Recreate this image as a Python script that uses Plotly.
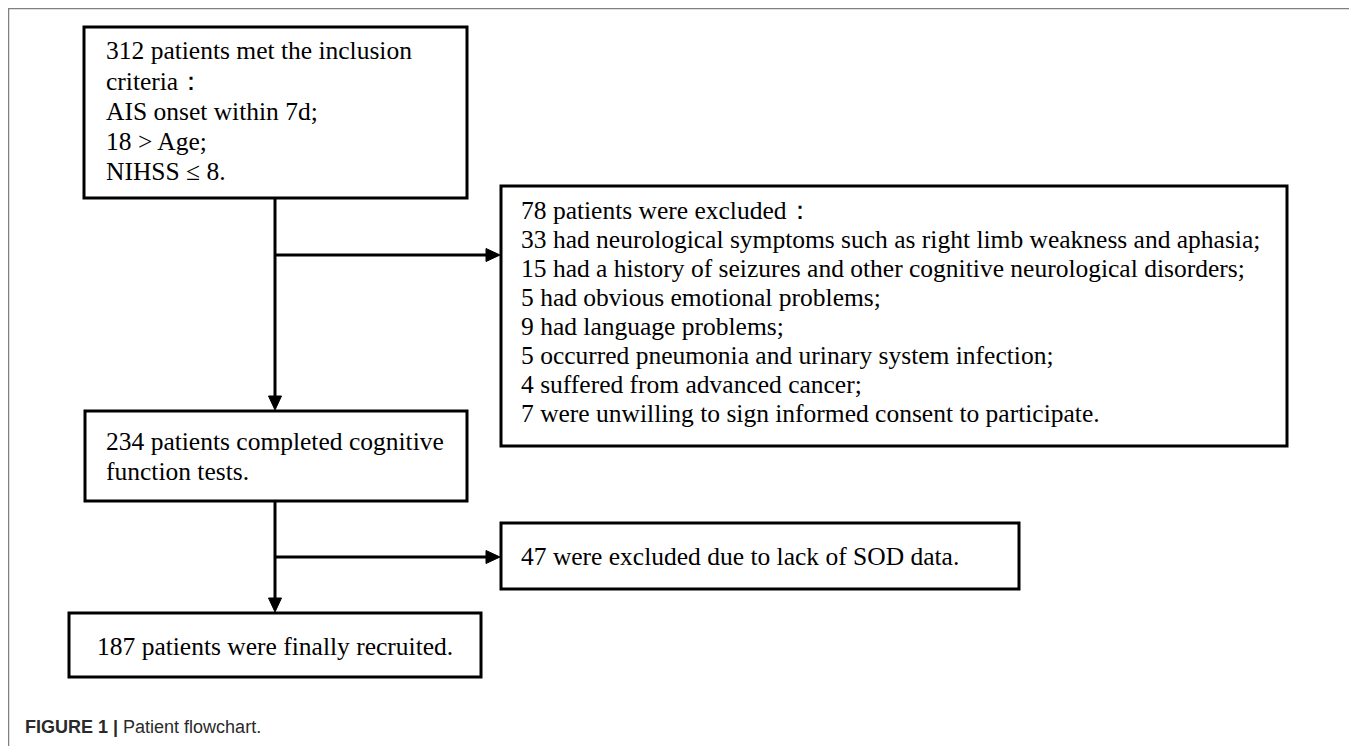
import plotly.graph_objects as go

# ---- content (data) ----
box_texts = [
    ["312 patients met the inclusion", "criteria：", "AIS onset within 7d;", "18 > Age;", "NIHSS ≤ 8."],
    ["78 patients were excluded：",
     "33 had neurological symptoms such as right limb weakness and aphasia;",
     "15 had a history of seizures and other cognitive neurological disorders;",
     "5 had obvious emotional problems;",
     "9 had language problems;",
     "5 occurred pneumonia and urinary system infection;",
     "4 suffered from advanced cancer;",
     "7 were unwilling to sign informed consent to participate."],
    ["234 patients completed cognitive", "function tests."],
    ["47 were excluded due to lack of SOD data."],
    ["187 patients were finally recruited."],
]
caption_bold = "FIGURE 1 |"
caption_text = "Patient flowchart."

# ---- layout geometry (screen pixels) ----
W, H = 1357, 746
OFF = 8  # page body margin
boxes = [  # x0, y0, x1, y1
    (84, 27, 467, 198),
    (501, 186, 1287, 446),
    (85, 411, 467, 501),
    (501, 523, 1019, 589),
    (69, 613, 481, 677),
]
text_pos = [  # x, first baseline, line step, anchor
    (104, 59.3, 30.2, "left"),
    (519, 218.5, 29.1, "left"),
    (104, 450, 30, "left"),
    (519, 565, 30, "left"),
    (275, 655, 30, "center"),
]
trunk_x = 275
branch_y = [255, 557]
FS = 25.5
LW = 3

fig = go.Figure()
shapes = []
# outer frame
shapes.append(dict(type="path", path=f"M 8.5 {H+20} L 8.5 8.5 L 1354 8.5 L 1354 {H+20}",
                   line=dict(color="#808080", width=1.5)))
for (x0, y0, x1, y1) in boxes:
    shapes.append(dict(type="rect", x0=x0, y0=y0, x1=x1, y1=y1,
                       line=dict(color="black", width=LW), fillcolor="white"))

def vline(x, y0, y1):
    shapes.append(dict(type="line", x0=x, x1=x, y0=y0, y1=y1, line=dict(color="black", width=LW)))

def hline(y, x0, x1):
    shapes.append(dict(type="line", x0=x0, x1=x1, y0=y, y1=y, line=dict(color="black", width=LW)))

def down_head(x, ytip, w=13, l=14):
    shapes.append(dict(type="path", path=f"M {x-w/2} {ytip-l} L {x+w/2} {ytip-l} L {x} {ytip} Z",
                       fillcolor="black", line=dict(color="black", width=1)))

def right_head(xtip, y, w=13, l=14):
    shapes.append(dict(type="path", path=f"M {xtip-l} {y-w/2} L {xtip-l} {y+w/2} L {xtip} {y} Z",
                       fillcolor="black", line=dict(color="black", width=1)))

# connectors
vline(trunk_x, boxes[0][3], boxes[2][1] - 12)
down_head(trunk_x, boxes[2][1] - 1)
hline(branch_y[0], trunk_x, boxes[1][0] - 12)
right_head(boxes[1][0] - 1, branch_y[0])

vline(trunk_x, boxes[2][3], boxes[4][1] - 12)
down_head(trunk_x, boxes[4][1] - 1)
hline(branch_y[1], trunk_x, boxes[3][0] - 12)
right_head(boxes[3][0] - 1, branch_y[1])

annotations = []
for lines, (x, b0, step, anc) in zip(box_texts, text_pos):
    for i, line in enumerate(lines):
        annotations.append(dict(x=x, y=b0 + i * step - 0.33 * FS, xref="x", yref="y",
                                xanchor=anc, yanchor="middle", text=line, showarrow=False,
                                font=dict(family="Liberation Serif", size=FS, color="black")))
annotations.append(dict(x=23, y=733 - 0.33 * 18, xref="x", yref="y", xanchor="left", yanchor="middle",
                        text=f"<b>{caption_bold}</b> {caption_text}", showarrow=False,
                        font=dict(family="Liberation Sans", size=18, color="#2a2a2a")))

fig.update_layout(width=W, height=H, margin=dict(l=0, r=0, t=0, b=0),
                  paper_bgcolor="white", plot_bgcolor="white",
                  shapes=shapes, annotations=annotations, showlegend=False,
                  xaxis=dict(range=[OFF, W + OFF], visible=False, fixedrange=True),
                  yaxis=dict(range=[H + OFF, OFF], visible=False, fixedrange=True))
fig.write_html("out.html", config={"displayModeBar": False})
